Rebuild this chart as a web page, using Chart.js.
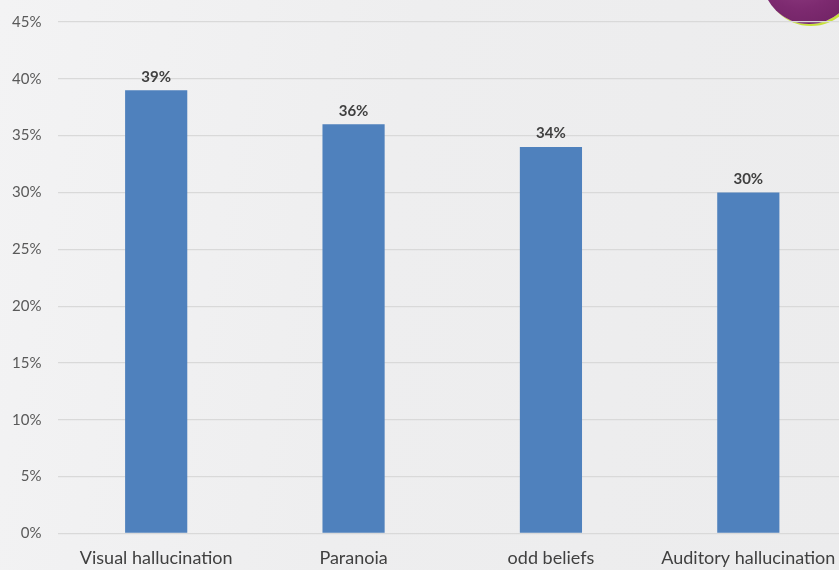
<!DOCTYPE html>
<html>
<head>
<meta charset="utf-8">
<script src="https://cdn.jsdelivr.net/npm/chart.js@4"></script>
<style>
  html, body { margin: 0; padding: 0; overflow: hidden; }
  body { width: 839px; height: 570px; background: linear-gradient(100deg, #f3f3f4 0%, #eeeeef 45%, #ececed 100%); position: relative; }
  #wrap { position: absolute; left: 0; top: -3px; width: 847px; height: 578px; }
  #orb { position: absolute; left: 762px; top: -70px; width: 94px; height: 94px; border-radius: 50%;
         background: radial-gradient(circle at 40% 35%, #9c4a8e 0%, #7d2a70 55%, #6a1f5e 100%);
         box-shadow: 2px 2px 0 #c7e03a; }
</style>
</head>
<body>
<div id="orb"></div>
<div id="wrap"><canvas id="render"></canvas></div>
<script>
const categories = ['Visual hallucination', 'Paranoia', 'odd beliefs', 'Auditory hallucination'];
const values = [39, 36, 34, 30];
const yTicks = [0, 5, 10, 15, 20, 25, 30, 35, 40, 45];

// value labels above each bar
const barLabels = {
  id: 'barLabels',
  afterDatasetsDraw(chart) {
    const ctx = chart.ctx;
    const meta = chart.getDatasetMeta(0);
    ctx.save();
    ctx.font = 'bold 15px Lato';
    ctx.fillStyle = '#404040';
    ctx.textAlign = 'center';
    ctx.textBaseline = 'bottom';
    meta.data.forEach((bar, i) => {
      ctx.fillText(values[i] + '%', bar.x, bar.y - 6);
    });
    ctx.restore();
  }
};

const ctx = document.getElementById('render');
new Chart(ctx, {
  type: 'bar',
  data: {
    labels: categories,
    datasets: [{
      data: values,
      backgroundColor: '#4f81bd',
      barPercentage: 0.315,
      categoryPercentage: 1
    }]
  },
  options: {
    responsive: true,
    maintainAspectRatio: false,
    animation: false,
    layout: { padding: { top: 8, right: 0, bottom: 0, left: 0 } },
    plugins: { legend: { display: false }, tooltip: { enabled: false } },
    scales: {
      x: {
        grid: { display: false },
        border: { display: false },
        ticks: { color: '#404040', font: { family: 'Lato', size: 18 }, padding: 6, maxRotation: 0 }
      },
      y: {
        min: 0,
        max: 45,
        afterBuildTicks: axis => { axis.ticks = yTicks.map(v => ({ value: v })); },
        afterFit: axis => { axis.width = 57.5; },
        grid: { color: '#d9d9d9', lineWidth: 1.2, drawTicks: false },
        border: { display: false },
        ticks: {
          color: '#595959',
          font: { family: 'Lato', size: 15 },
          padding: 16,
          callback: v => v + '%'
        }
      }
    }
  },
  plugins: [barLabels]
});
</script>
</body>
</html>
